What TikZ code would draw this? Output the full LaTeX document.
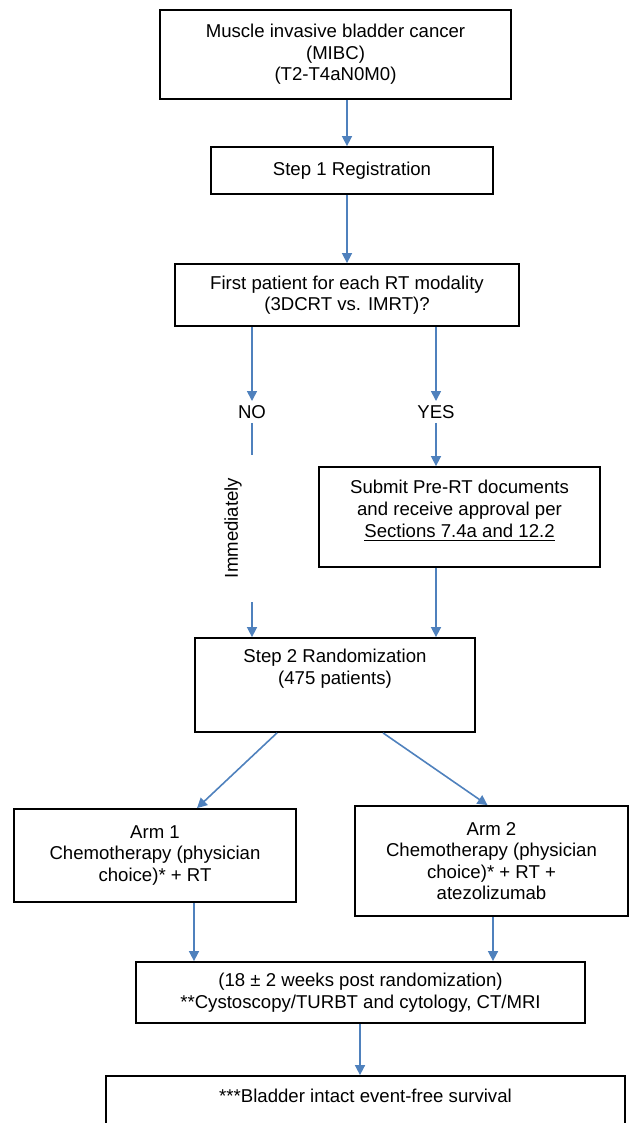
\documentclass[tikz,border=0pt]{standalone}
\usepackage{fontspec}
\setmainfont{Liberation Sans}
\usetikzlibrary{arrows.meta}
\usetikzlibrary{calc,positioning}

\tikzset{
  box/.style={draw=black, line width=0.9pt, align=center, inner sep=2pt},
  txt/.style={align=center, inner sep=2pt},
  arrow/.style={draw=arrowblue, line width=0.8pt, -{Triangle[length=5pt,width=5pt]}},
  link/.style={draw=arrowblue, line width=0.8pt}
}
\definecolor{arrowblue}{HTML}{4F81BD}

\begin{document}
\begin{tikzpicture}[x=0.5pt, y=-0.5pt, font=\fontsize{9.3}{10.8}\selectfont]
\useasboundingbox (0,0) rectangle (629,1123);
% boxes
\node[box, minimum width=175.5pt, minimum height=44.5pt] (mibc) at (335.5,54.5) {Muscle invasive bladder cancer\\(MIBC)\\(T2-T4aN0M0)};
\node[box, minimum width=141pt, minimum height=23.5pt] (reg) at (352,170.5) {Step 1 Registration};
\node[box, minimum width=172pt, minimum height=31pt] (first) at (347,295) {First patient for each RT modality\\(3DCRT vs. IMRT)?};
\node[txt] (no) at (252,412) {NO};
\node[txt] (yes) at (436,412) {YES};
\node[txt, rotate=90] (imm) at (233,528) {Immediately};
\node[box, minimum width=140.5pt, minimum height=50pt] (submit) at (459.5,517) {};
\node[txt, below=5pt of submit.north] (submittxt) {Submit Pre-RT documents\\and receive approval per\\\underline{Sections 7.4a and 12.2}};
\node[box, minimum width=140pt, minimum height=47pt] (rand) at (335,685) {};
\node[txt, below=4pt of rand.north] (randtxt) {Step 2 Randomization\\(475 patients)};
\node[box, minimum width=141pt, minimum height=46.5pt] (arm1) at (155,855.5) {Arm 1\\Chemotherapy (physician\\choice)* + RT};
\node[box, minimum width=136.5pt, minimum height=55pt] (arm2) at (491.5,861) {Arm 2\\Chemotherapy (physician\\choice)* + RT +\\atezolizumab};
\node[box, minimum width=224.5pt, minimum height=30.5pt] (week) at (360.5,992.5) {(18 ± 2 weeks post randomization)\\**Cystoscopy/TURBT and cytology, CT/MRI};
\node[box, minimum width=259.5pt, minimum height=40pt] (efs) at (365.5,1116) {};
\node[txt, below=5pt of efs.north] (efstxt) {***Bladder intact event-free survival};
\coordinate (immtop) at (252,455);
\coordinate (immbot) at (252,602);

% connectors
\draw[arrow] (mibc.south -| first.north) -- (reg.north -| first.north);
\draw[arrow] (reg.south -| first.north) -- (first.north);
\draw[arrow] (first.south -| no) -- (no.north);
\draw[arrow] (first.south -| yes) -- (yes.north);
\draw[link] (no.south) -- (immtop);
\draw[arrow] (immbot) -- (rand.north -| immbot);
\draw[arrow] (yes.south) -- (submit.north -| yes);
\draw[arrow] (submit.south -| yes) -- (rand.north -| yes);
\draw[arrow] ([xshift=-29pt]rand.south) -- ([xshift=21pt]arm1.north);
\draw[arrow] ([xshift=24pt]rand.south) -- ([xshift=-2pt]arm2.north);
\draw[arrow] ([xshift=19.5pt]arm1.south) -- ([xshift=19.5pt]arm1.south |- week.north);
\draw[arrow] ([xshift=0.75pt]arm2.south) -- ([xshift=0.75pt]arm2.south |- week.north);
\draw[arrow] ([xshift=-0.25pt]week.south) -- ([xshift=-0.25pt]week.south |- efs.north);

\end{tikzpicture}
\end{document}
